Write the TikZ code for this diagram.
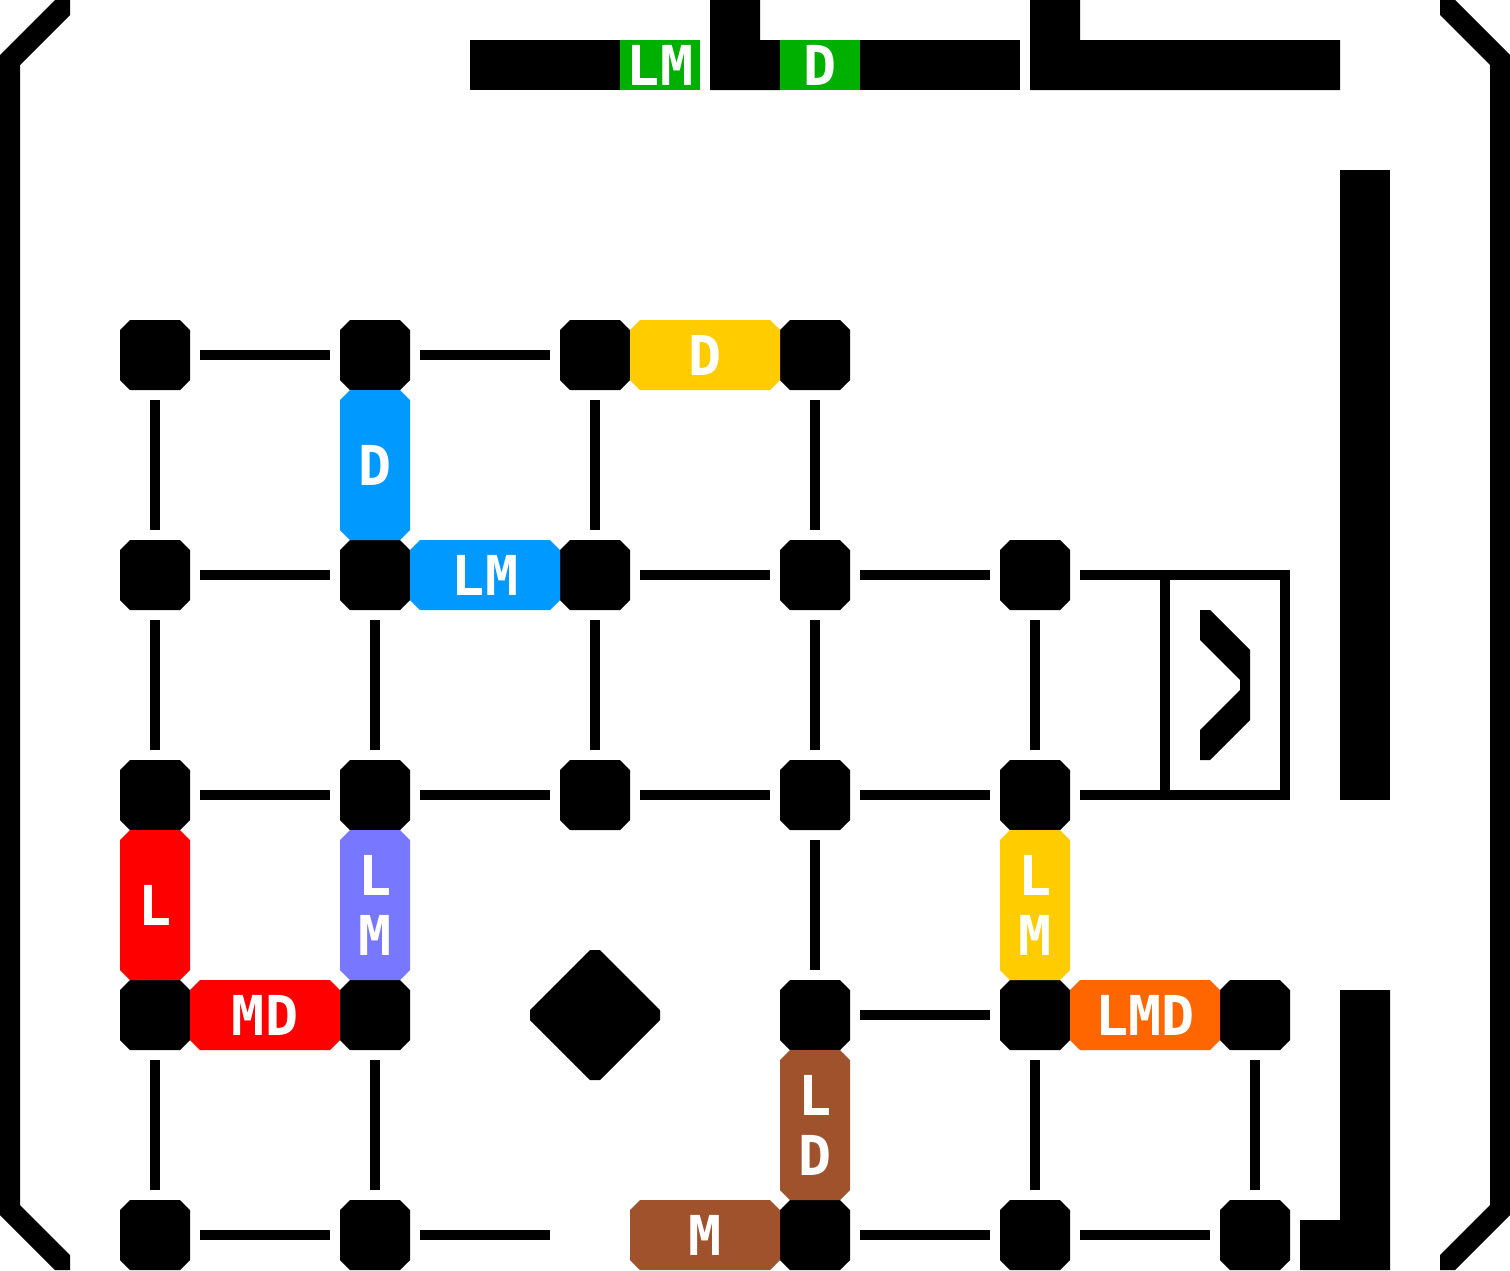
\documentclass[tikz,border=0pt]{standalone}
\usepackage{fontspec}
\setmonofont{DejaVu Sans Mono}
\definecolor{cgreen}{RGB}{0,176,0}
\definecolor{cblue}{RGB}{0,153,255}
\definecolor{cyellow}{RGB}{255,204,0}
\definecolor{cred}{RGB}{255,0,0}
\definecolor{cpurple}{RGB}{119,119,255}
\definecolor{corange}{RGB}{255,102,0}
\definecolor{cbrown}{RGB}{160,82,45}
\tikzset{
  octshape/.style={rectangle, inner sep=0pt, outer sep=0pt, path picture={
    \fill[#1] ([xshift=10pt]path picture bounding box.south west)
      -- ([xshift=-10pt]path picture bounding box.south east)
      -- ([yshift=10pt]path picture bounding box.south east)
      -- ([yshift=-10pt]path picture bounding box.north east)
      -- ([xshift=-10pt]path picture bounding box.north east)
      -- ([xshift=10pt]path picture bounding box.north west)
      -- ([yshift=-10pt]path picture bounding box.north west)
      -- ([yshift=10pt]path picture bounding box.south west) -- cycle;}},
  lbl/.style={font=\ttfamily\bfseries\fontsize{55pt}{60pt}\selectfont, text=white},
  gnode/.style={octshape=black, minimum width=70pt, minimum height=70pt},
  hseg/.style={octshape=#1, minimum width=150pt, minimum height=70pt, lbl},
  vseg/.style={octshape=#1, minimum width=70pt, minimum height=150pt, lbl, align=center},
  topg/.style={rectangle, fill=cgreen, inner sep=0pt, minimum width=80pt, minimum height=50pt, lbl},
  edge/.style={line width=10pt, shorten <=10pt, shorten >=10pt},
}
\begin{document}
\begin{tikzpicture}[x=1pt,y=-1pt]
\fill[white] (0,0) rectangle (1510,1270);
\useasboundingbox (0,0) rectangle (1510,1270);
% frame brackets
\fill (55,0) -- (70,0) -- (70,15) -- (20,65) -- (20,1205) -- (70,1255) -- (70,1270) -- (55,1270) -- (0,1215) -- (0,55) -- cycle;
\fill (1455,0) -- (1440,0) -- (1440,15) -- (1490,65) -- (1490,1205) -- (1440,1255) -- (1440,1270) -- (1455,1270) -- (1510,1215) -- (1510,55) -- cycle;
% top bar
\fill (470,40) rectangle (620,90);
\node[topg] (tLM) at (660,65) {LM};
\fill (710,0) -- (760,0) -- (760,40) -- (780,40) -- (780,90) -- (710,90) -- cycle;
\node[topg] (tD) at (820,65) {D};
\fill (860,40) rectangle (1020,90);
\fill (1030,0) -- (1080,0) -- (1080,40) -- (1340,40) -- (1340,90) -- (1030,90) -- cycle;
% right bars
\fill (1340,170) rectangle (1390,800);
\fill (1340,990) -- (1390,990) -- (1390,1270) -- (1300,1270) -- (1300,1220) -- (1340,1220) -- cycle;
% grid nodes
\node[gnode] (n11) at (155,355) {};
\node[gnode] (n21) at (375,355) {};
\node[gnode] (n31) at (595,355) {};
\node[gnode] (n41) at (815,355) {};
\node[gnode] (n12) at (155,575) {};
\node[gnode] (n22) at (375,575) {};
\node[gnode] (n32) at (595,575) {};
\node[gnode] (n42) at (815,575) {};
\node[gnode] (n52) at (1035,575) {};
\node[gnode] (n13) at (155,795) {};
\node[gnode] (n23) at (375,795) {};
\node[gnode] (n33) at (595,795) {};
\node[gnode] (n43) at (815,795) {};
\node[gnode] (n53) at (1035,795) {};
\node[gnode] (n14) at (155,1015) {};
\node[gnode] (n24) at (375,1015) {};
\node[gnode] (n44) at (815,1015) {};
\node[gnode] (n54) at (1035,1015) {};
\node[gnode] (n64) at (1255,1015) {};
\node[gnode] (n15) at (155,1235) {};
\node[gnode] (n25) at (375,1235) {};
\node[gnode] (n45) at (815,1235) {};
\node[gnode] (n55) at (1035,1235) {};
\node[gnode] (n65) at (1255,1235) {};
% diamond
\node[inner sep=0pt, minimum size=130pt] (d34) at (595,1015) {};
\fill (590,950) -- (600,950) -- (660,1010) -- (660,1020) -- (600,1080) -- (590,1080) -- (530,1020) -- (530,1010) -- cycle;
% coloured segments
\node[hseg=cyellow] (sD1) at (705,355) {D};
\node[vseg=cblue] (sD2) at (375,465) {D};
\node[hseg=cblue] (sLM1) at (485,575) {LM};
\node[vseg=cred] (sL) at (155,905) {L};
\node[vseg=cpurple] (sLM2) at (375,905) {L\\M};
\node[vseg=cyellow] (sLM3) at (1035,905) {L\\M};
\node[hseg=cred] (sMD) at (265,1015) {MD};
\node[hseg=corange] (sLMD) at (1145,1015) {LMD};
\node[vseg=cbrown] (sLD) at (815,1125) {L\\D};
\node[hseg=cbrown] (sM) at (705,1235) {M};
% edges
\draw[edge] (n11) -- (n21);
\draw[edge] (n21) -- (n31);
\draw[edge] (n11) -- (n12);
\draw[edge] (n31) -- (n32);
\draw[edge] (n41) -- (n42);
\draw[edge] (n12) -- (n22);
\draw[edge] (n32) -- (n42);
\draw[edge] (n42) -- (n52);
\draw[edge] (n12) -- (n13);
\draw[edge] (n22) -- (n23);
\draw[edge] (n32) -- (n33);
\draw[edge] (n42) -- (n43);
\draw[edge] (n52) -- (n53);
\draw[edge] (n13) -- (n23);
\draw[edge] (n23) -- (n33);
\draw[edge] (n33) -- (n43);
\draw[edge] (n43) -- (n53);
\draw[edge] (n43) -- (n44);
\draw[edge] (n44) -- (n54);
\draw[edge] (n14) -- (n15);
\draw[edge] (n24) -- (n25);
\draw[edge] (n54) -- (n55);
\draw[edge] (n64) -- (n65);
\draw[edge] (n15) -- (n25);
\coordinate (e35) at (560,1235);
\draw[edge] (n25) -- (e35);
\draw[edge] (n45) -- (n55);
\draw[edge] (n55) -- (n65);
% exit box
\coordinate (b1) at (1285,575);
\coordinate (b2) at (1285,795);
\coordinate (v1) at (1165,575);
\coordinate (v2) at (1165,795);
\draw[edge, line join=miter] (n52) -- (b1) -- (b2) -- (n53);
\draw[line width=10pt] (v1) -- (v2);
\fill (1200,610) -- (1210,610) -- (1250,650) -- (1250,720) -- (1210,760) -- (1200,760) -- (1200,730) -- (1240,690) -- (1240,680) -- (1200,640) -- cycle;
\end{tikzpicture}
\end{document}
